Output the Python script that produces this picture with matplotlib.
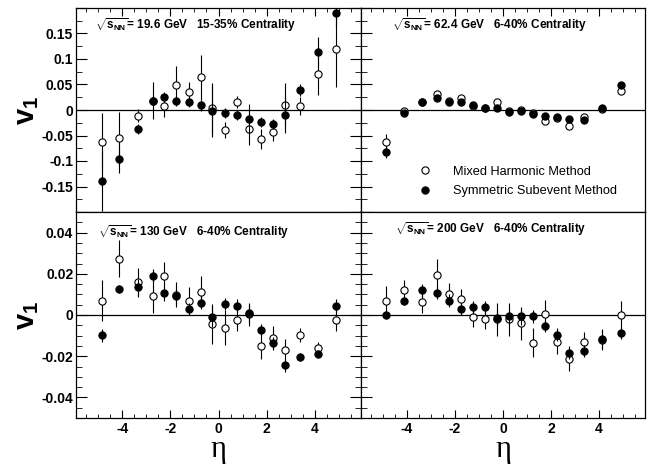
import matplotlib
matplotlib.use("Agg")
import matplotlib.pyplot as plt
from matplotlib.lines import Line2D
from matplotlib.ticker import FuncFormatter, MultipleLocator

plt.rcParams["font.family"] = ["Liberation Sans", "DejaVu Sans"]
plt.rcParams["mathtext.fontset"] = "custom"
plt.rcParams["mathtext.rm"] = "Liberation Sans:bold"
plt.rcParams["mathtext.it"] = "Liberation Sans:bold"
plt.rcParams["mathtext.bf"] = "Liberation Sans:bold"
plt.rcParams["axes.unicode_minus"] = False

# Pseudorapidity bins shared by all four panels.
ETA = [-4.86, -4.12, -3.36, -2.74, -2.25, -1.75, -1.24, -0.74, -0.25,
       0.25, 0.75, 1.25, 1.75, 2.26, 2.76, 3.37, 4.12, 4.9]

# 19.6 GeV, 15-35% centrality
V1_MIXED_196 = [-0.063, -0.055, -0.011, 0.018, 0.008, 0.049, 0.035, 0.064, 0.003,
                -0.039, 0.015, -0.038, -0.057, -0.044, 0.010, 0.008, 0.070, 0.120]
ERR_MIXED_196 = [0.058, 0.052, 0.012, 0.010, 0.022, 0.038, 0.020, 0.044, 0.050,
                 0.015, 0.012, 0.030, 0.020, 0.017, 0.042, 0.018, 0.040, 0.075]
V1_SUB_196 = [-0.139, -0.096, -0.038, 0.018, 0.025, 0.018, 0.016, 0.009, -0.001,
              -0.0065, -0.010, -0.018, -0.023, -0.027, -0.010, 0.039, 0.114, 0.191]
ERR_SUB_196 = [0.060, 0.028, 0.010, 0.036, 0.010, 0.010, 0.010, 0.010, 0.052,
               0.010, 0.010, 0.030, 0.010, 0.010, 0.035, 0.012, 0.030, 0.030]

# 62.4 GeV, 6-40% centrality
V1_MIXED_624 = [-0.062, -0.002, 0.015, 0.031, 0.017, 0.024, 0.008, 0.004, 0.016,
                -0.002, 0.000, -0.006, -0.021, -0.015, -0.031, -0.013, 0.002, 0.038]
ERR_MIXED_624 = [0.015, 0.004, 0.004, 0.004, 0.004, 0.004, 0.004, 0.004, 0.004,
                 0.004, 0.004, 0.004, 0.004, 0.004, 0.005, 0.004, 0.004, 0.005]
V1_SUB_624 = [-0.082, -0.0065, 0.016, 0.023, 0.016, 0.016, 0.010, 0.003, 0.003,
              -0.003, -0.0015, -0.0085, -0.012, -0.014, -0.018, -0.019, 0.003, 0.049]
ERR_SUB_624 = [0.012, 0.004, 0.004, 0.004, 0.004, 0.004, 0.004, 0.004, 0.004,
               0.004, 0.004, 0.004, 0.004, 0.004, 0.004, 0.004, 0.004, 0.005]

# 130 GeV, 6-40% centrality
V1_MIXED_130 = [0.0069, 0.0274, 0.0158, 0.0090, 0.0188, 0.0098, 0.0069, 0.0113, -0.0044,
                -0.0062, -0.0024, 0.0003, -0.0152, -0.0111, -0.0168, -0.0098, -0.0160, -0.0024]
ERR_MIXED_130 = [0.010, 0.009, 0.007, 0.008, 0.007, 0.006, 0.0065, 0.0075, 0.0095,
                 0.0085, 0.0055, 0.0055, 0.006, 0.006, 0.005, 0.0035, 0.003, 0.0055]
V1_SUB_130 = [-0.0099, 0.0126, 0.0134, 0.0191, 0.0109, 0.0090, 0.0028, 0.0060, -0.0008,
              0.0054, 0.0046, 0.0008, -0.0073, -0.0135, -0.0245, -0.0204, -0.0188, 0.0046]
ERR_SUB_130 = [0.003, 0.002, 0.004, 0.003, 0.004, 0.004, 0.003, 0.003, 0.005,
               0.003, 0.003, 0.004, 0.003, 0.003, 0.003, 0.002, 0.002, 0.003]

# 200 GeV, 6-40% centrality
V1_MIXED_200 = [0.0069, 0.0119, 0.0062, 0.0194, 0.0103, 0.0078, -0.0008, -0.0020, -0.0021,
                -0.0020, -0.0041, -0.0135, 0.0005, -0.0131, -0.0212, -0.0131, -0.0120, 0.0000]
ERR_MIXED_200 = [0.007, 0.005, 0.005, 0.008, 0.005, 0.005, 0.005, 0.005, 0.008,
                 0.008, 0.008, 0.007, 0.007, 0.006, 0.006, 0.005, 0.004, 0.007]
V1_SUB_200 = [0.0000, 0.0070, 0.0119, 0.0109, 0.0070, 0.0029, 0.0037, 0.0037, -0.0013,
              -0.0005, -0.0007, -0.0007, -0.0054, -0.0095, -0.0184, -0.0175, -0.0118, -0.0087]
ERR_SUB_200 = [0.002, 0.002, 0.003, 0.003, 0.003, 0.003, 0.003, 0.003, 0.004,
               0.004, 0.004, 0.003, 0.003, 0.003, 0.003, 0.003, 0.005, 0.003]

ENERGY_LABELS = ["19.6 GeV", "62.4 GeV", "130 GeV", "200 GeV"]
CENTRALITY_LABELS = ["15-35% Centrality", "6-40% Centrality", "6-40% Centrality", "6-40% Centrality"]
LEGEND_LABELS = ["Mixed Harmonic Method", "Symmetric Subevent Method"]


def fmt_tick(value, _pos, limit):
    if abs(value) >= limit:
        return ""
    value = round(value, 4)
    if value == 0:
        return "0"
    return f"{value:g}"


def style_axis(ax, ylim, ymajor, yminor, left, bottom):
    ax.set_xlim(-5.92, 5.92)
    ax.set_ylim(*ylim)
    ax.xaxis.set_major_locator(MultipleLocator(2))
    ax.xaxis.set_minor_locator(MultipleLocator(0.5))
    ax.yaxis.set_major_locator(MultipleLocator(ymajor))
    ax.yaxis.set_minor_locator(MultipleLocator(yminor))
    ax.yaxis.set_major_formatter(FuncFormatter(lambda v, p: fmt_tick(v, p, ylim[1] * 0.95)))
    ax.xaxis.set_major_formatter(FuncFormatter(lambda v, p: fmt_tick(v, p, 5.5)))

    ax.tick_params(axis="x", which="major", direction="in", length=6, width=0.8,
                   top=not bottom, bottom=bottom, labelbottom=bottom, pad=3,
                   labelsize=10)
    ax.tick_params(axis="x", which="minor", direction="in", length=3, width=0.6,
                   top=not bottom, bottom=bottom)
    ax.tick_params(axis="y", which="major", direction="in", length=8, width=0.8,
                   left=True, right=left, labelleft=left, pad=2, labelsize=10)
    ax.tick_params(axis="y", which="minor", direction="in", length=4, width=0.6,
                   left=True, right=left)
    for label in ax.get_xticklabels() + ax.get_yticklabels():
        label.set_fontweight("bold")
    for spine in ax.spines.values():
        spine.set_linewidth(0.9)
    ax.axhline(0, color="black", linewidth=0.9, zorder=1)


def draw_panel(ax, mixed, mixed_err, sub, sub_err):
    ax.errorbar(ETA, mixed, yerr=mixed_err, fmt="o", color="black", mfc="white",
                mec="black", ms=5.2, mew=0.8, elinewidth=0.8, capsize=0, zorder=3)
    ax.errorbar(ETA, sub, yerr=sub_err, fmt="o", color="black", mfc="black",
                mec="black", ms=5.2, mew=0.8, elinewidth=0.8, capsize=0, zorder=4)


def main():
    fig = plt.figure(figsize=(6.55, 4.66), dpi=100)

    lx, rx = 76 / 655, 361 / 655
    lw, rw = 285 / 655, 284 / 655
    tb, th = 1 - 212 / 466, 204 / 466
    bb, bh = 1 - 418 / 466, 206 / 466

    ax_tl = fig.add_axes([lx, tb, lw, th])
    ax_tr = fig.add_axes([rx, tb, rw, th])
    ax_bl = fig.add_axes([lx, bb, lw, bh])
    ax_br = fig.add_axes([rx, bb, rw, bh])

    panels = [
        (ax_tl, V1_MIXED_196, ERR_MIXED_196, V1_SUB_196, ERR_SUB_196),
        (ax_tr, V1_MIXED_624, ERR_MIXED_624, V1_SUB_624, ERR_SUB_624),
        (ax_bl, V1_MIXED_130, ERR_MIXED_130, V1_SUB_130, ERR_SUB_130),
        (ax_br, V1_MIXED_200, ERR_MIXED_200, V1_SUB_200, ERR_SUB_200),
    ]
    for ax, mixed, mixed_err, sub, sub_err in panels:
        draw_panel(ax, mixed, mixed_err, sub, sub_err)

    style_axis(ax_tl, (-0.2, 0.2), 0.05, 0.025, left=True, bottom=False)
    style_axis(ax_tr, (-0.2, 0.2), 0.05, 0.025, left=False, bottom=False)
    style_axis(ax_bl, (-0.05, 0.05), 0.02, 0.005, left=True, bottom=True)
    style_axis(ax_br, (-0.05, 0.05), 0.02, 0.005, left=False, bottom=True)

    # Energy / centrality captions
    text_pos = [(0.067, 0.918), (0.109, 0.918), (0.077, 0.90), (0.118, 0.917)]
    for ax, energy, cent, (tx, ty) in zip([ax_tl, ax_tr, ax_bl, ax_br], ENERGY_LABELS,
                                          CENTRALITY_LABELS, text_pos):
        ax.text(tx, ty, r"$\sqrt{s_{NN}}$= " + energy + "   " + cent, transform=ax.transAxes,
                fontsize=8.5, fontweight="bold", va="center", ha="left")

    handles = [
        Line2D([], [], ls="none", marker="o", mfc="white", mec="black", ms=5.2, mew=0.8),
        Line2D([], [], ls="none", marker="o", mfc="black", mec="black", ms=5.2, mew=0.8),
    ]
    ax_tr.legend(handles, LEGEND_LABELS, loc="upper left", bbox_to_anchor=(0.203, 0.227),
                 frameon=False, fontsize=9.2, handlelength=1.0, handletextpad=1.7,
                 labelspacing=0.6, borderpad=0, borderaxespad=0)

    # Axis titles
    for yc in (110, 315):
        fig.text(27 / 655, 1 - yc / 466, r"$\mathbf{v}_{\mathbf{1}}$", rotation=90,
                 fontsize=21, ha="center", va="center")
    for xc in (218, 503):
        fig.text(xc / 655, 1 - 457 / 466, "η", family=["Liberation Serif", "DejaVu Serif"],
                 fontsize=22, ha="center", va="baseline")

    fig.savefig("out.png", dpi=100)
    plt.close(fig)


if __name__ == "__main__":
    main()
